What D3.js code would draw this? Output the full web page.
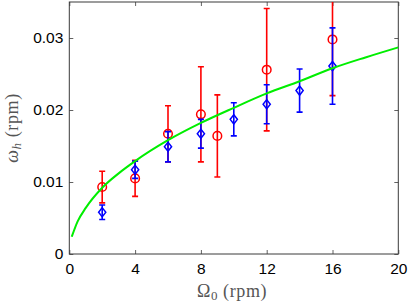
<!DOCTYPE html>
<html><head><meta charset="utf-8">
<script src="https://cdn.jsdelivr.net/npm/d3@7"></script>
<style>body{margin:0;background:#fff}svg{display:block}</style>
</head><body>
<svg id="c" width="409" height="304"></svg>
<script>
// Red series (circles) with error bars
const redX = [2, 4, 6, 8, 9, 12, 16];
const redY = [0.0093, 0.0105, 0.0167, 0.0194, 0.0164, 0.0256, 0.0298];
const redErr = [0.0022, 0.0025, 0.0039, 0.0066, 0.0057, 0.0085, 0.0078];
// Blue series (diamonds) with error bars
const blueX = [2, 4, 6, 8, 10, 12, 14, 16];
const blueY = [0.0058, 0.0117, 0.0149, 0.0167, 0.0187, 0.0208, 0.0227, 0.0261];
const blueErr = [0.0010, 0.0012, 0.0021, 0.0020, 0.0023, 0.0027, 0.0030, 0.0053];
// Green fit curve
const fitX = [0.15, 0.5, 1, 2, 3, 4, 6, 8, 10, 12, 14, 16, 18, 20];
const fitY = [0.0024, 0.0045, 0.0064, 0.0092, 0.0112, 0.0129, 0.0158, 0.0182, 0.0203, 0.0223, 0.0240, 0.0258, 0.0273, 0.0287];
// Ticks
const xTicks = [0, 4, 8, 12, 16, 20];
const yTicks = [0, 0.01, 0.02, 0.03];
const yTickLabels = ["0", "0.01", "0.02", "0.03"];

const L = 69.3, R = 398.3, T = 2, B = 254;
const x = d3.scaleLinear().domain([0, 20]).range([L, R]);
const y = d3.scaleLinear().domain([0, 0.035]).range([B, T]);
const svg = d3.select("#c");

svg.append("defs").append("clipPath").attr("id", "clip")
  .append("rect").attr("x", L).attr("y", T).attr("width", R - L).attr("height", B - T);

const axisCol = "#3a3a3a";
const fontSans = "'Liberation Sans', Arial, sans-serif";
const fontSerif = "'Liberation Serif', 'Times New Roman', serif";

// Axes with inward ticks
const gx = svg.append("g").attr("transform", `translate(0,${B})`)
  .call(d3.axisBottom(x).tickValues(xTicks).tickSizeInner(-4).tickSizeOuter(0).tickPadding(8));
const gy = svg.append("g").attr("transform", `translate(${L},0)`)
  .call(d3.axisLeft(y).tickValues(yTicks).tickFormat((d, i) => yTickLabels[i]).tickSizeInner(-4).tickSizeOuter(0).tickPadding(6));
const gxt = svg.append("g").attr("transform", `translate(0,${T})`)
  .call(d3.axisTop(x).tickValues(xTicks).tickSizeInner(-4).tickSizeOuter(0).tickFormat(""));
const gyr = svg.append("g").attr("transform", `translate(${R},0)`)
  .call(d3.axisRight(y).tickValues(yTicks).tickSizeInner(-4).tickSizeOuter(0).tickFormat(""));
[gx, gy, gxt, gyr].forEach(g => {
  g.select(".domain").remove();
  g.selectAll("line").attr("stroke", axisCol).attr("stroke-width", 0.8);
  g.selectAll("text").attr("fill", "#000").style("font-family", fontSans).style("font-size", "15.5px");
});
gx.selectAll("text").attr("dy", "0.75em");
svg.append("rect").attr("x", L).attr("y", T).attr("width", R - L).attr("height", B - T)
  .attr("fill", "none").attr("stroke", axisCol).attr("stroke-width", 1);

const plot = svg.append("g").attr("clip-path", "url(#clip)");

function errorSeries(xs, ys, es, color) {
  const g = plot.append("g");
  const d = xs.map((v, i) => ({ x: v, y: ys[i], e: es[i] }));
  const cw = 3;
  g.selectAll(".v").data(d).enter().append("line")
    .attr("x1", p => x(p.x)).attr("x2", p => x(p.x))
    .attr("y1", p => y(p.y - p.e)).attr("y2", p => y(p.y + p.e))
    .attr("stroke", color).attr("stroke-width", 1.6);
  g.selectAll(".t").data(d).enter().append("line")
    .attr("x1", p => x(p.x) - cw).attr("x2", p => x(p.x) + cw)
    .attr("y1", p => y(p.y + p.e)).attr("y2", p => y(p.y + p.e))
    .attr("stroke", color).attr("stroke-width", 1.6);
  g.selectAll(".b").data(d).enter().append("line")
    .attr("x1", p => x(p.x) - cw).attr("x2", p => x(p.x) + cw)
    .attr("y1", p => y(p.y - p.e)).attr("y2", p => y(p.y - p.e))
    .attr("stroke", color).attr("stroke-width", 1.6);
  return { g, d };
}

const red = errorSeries(redX, redY, redErr, "#ff0000");
red.g.selectAll("circle").data(red.d).enter().append("circle")
  .attr("cx", p => x(p.x)).attr("cy", p => y(p.y)).attr("r", 4.3)
  .attr("fill", "none").attr("stroke", "#ff0000").attr("stroke-width", 1.5);

const blue = errorSeries(blueX, blueY, blueErr, "#0000ff");
blue.g.selectAll("path").data(blue.d).enter().append("path")
  .attr("d", p => {
    const cx = x(p.x), cy = y(p.y), w = 3.6, h = 4.6;
    return `M${cx},${cy - h}L${cx + w},${cy}L${cx},${cy + h}L${cx - w},${cy}Z`;
  })
  .attr("fill", "none").attr("stroke", "#0000ff").attr("stroke-width", 1.5);

const fitData = fitX.map((v, i) => [v, fitY[i]]);
plot.append("path").datum(fitData)
  .attr("d", d3.line().x(p => x(p[0])).y(p => y(p[1])).curve(d3.curveMonotoneX))
  .attr("fill", "none").attr("stroke", "#00ee00").attr("stroke-width", 2);

// Axis titles
svg.append("text").attr("x", 232).attr("y", 297).attr("text-anchor", "middle")
  .style("font-family", fontSerif).style("font-size", "18px").style("letter-spacing", "0.6px").attr("fill", "#555")
  .html('Ω<tspan dy="3" font-size="13px">0</tspan><tspan dy="-3"> (rpm)</tspan>');
svg.append("text").attr("transform", "translate(18,128) rotate(-90)").attr("text-anchor", "middle")
  .style("font-family", fontSerif).style("font-size", "18px").style("letter-spacing", "0.6px").attr("fill", "#555")
  .html('<tspan font-style="italic">ω</tspan><tspan dy="3" font-size="13px" font-style="italic">h</tspan><tspan dy="-3"> (rpm)</tspan>');
</script>
</body></html>
